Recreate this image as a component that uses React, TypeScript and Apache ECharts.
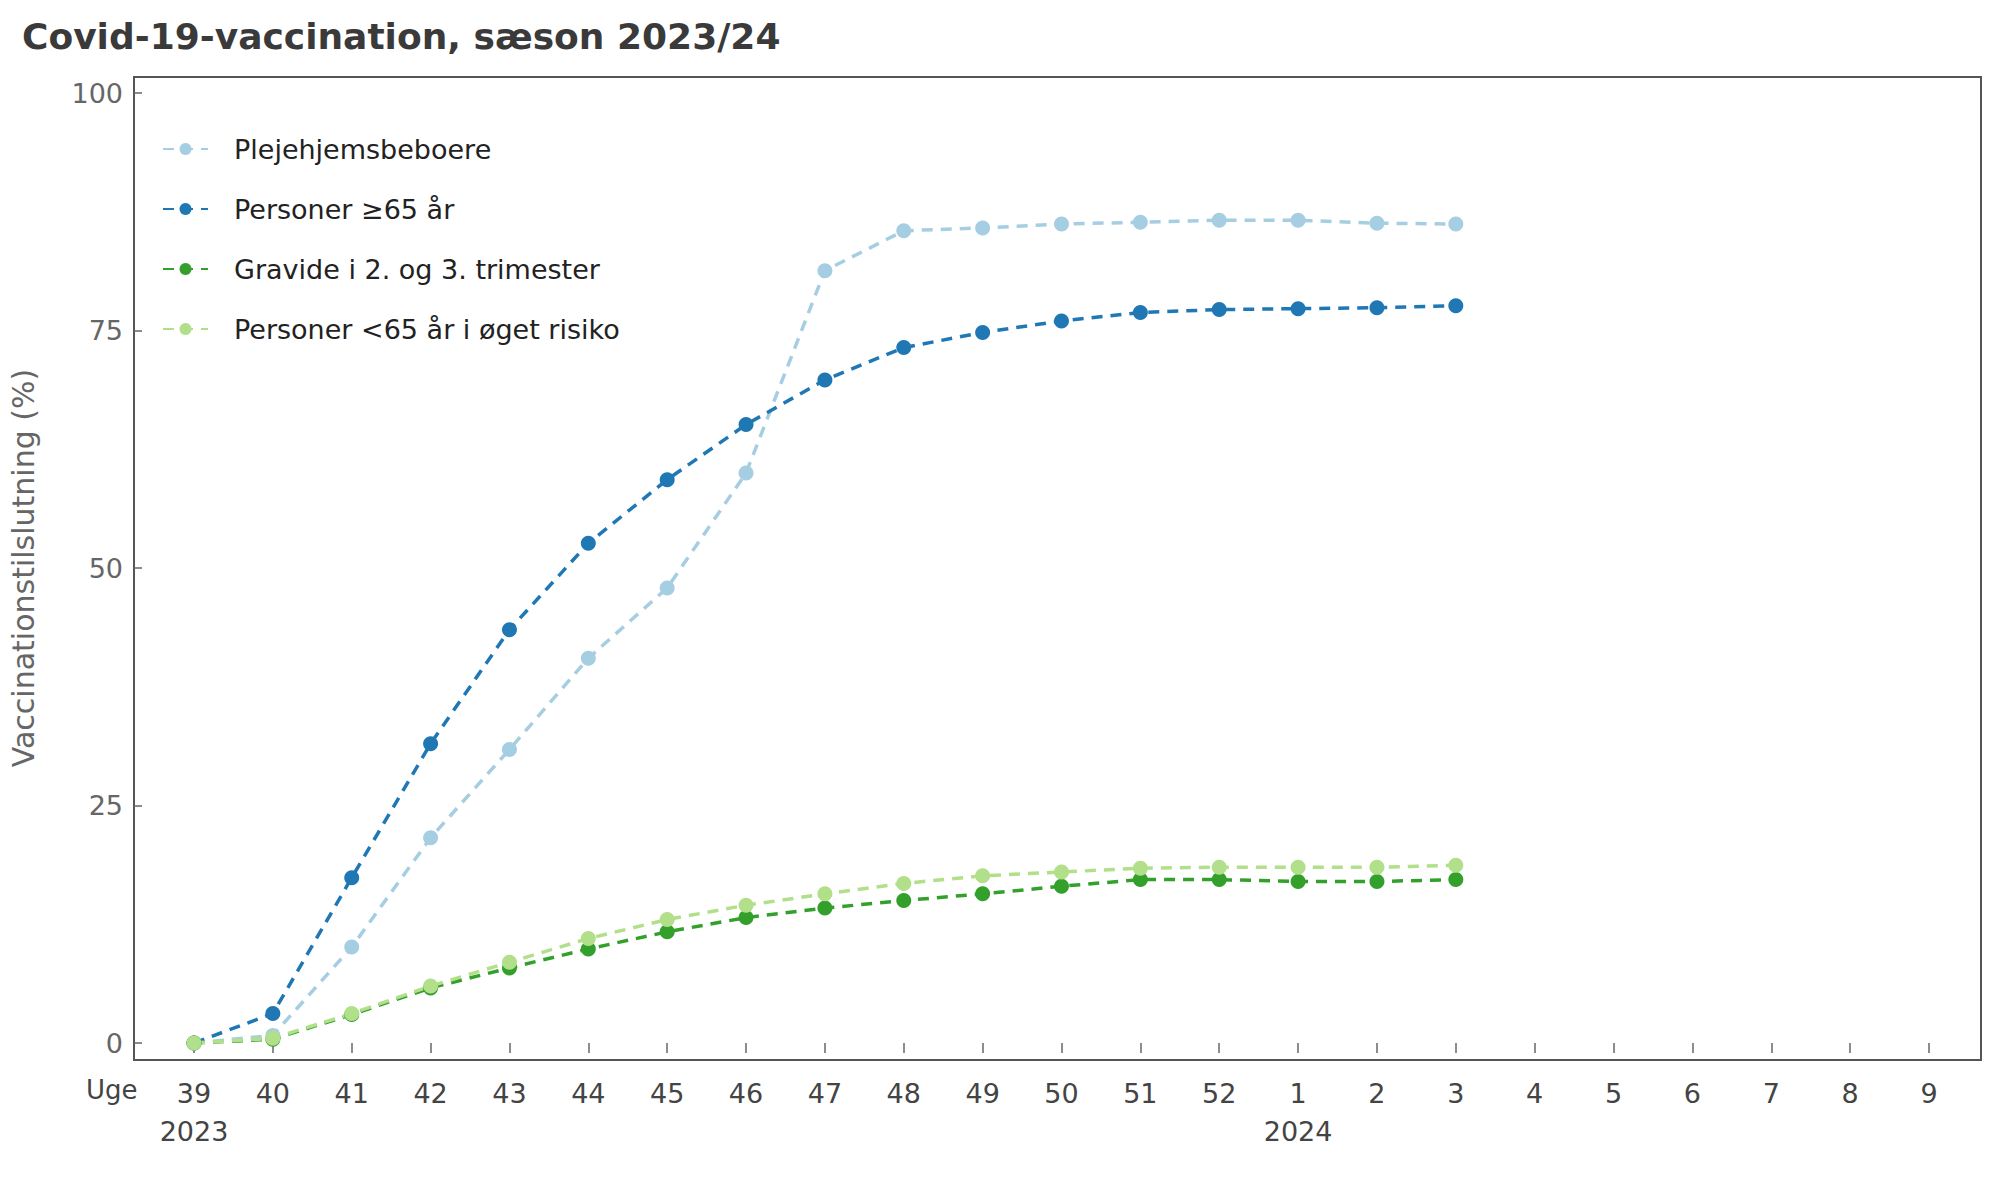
import React, { useEffect, useRef } from "react";
import * as echarts from "echarts";

const weeks = ["39","40","41","42","43","44","45","46","47","48","49","50","51","52","1","2","3","4","5","6","7","8","9"];
const seriesNames = ["Plejehjemsbeboere", "Personer ≥65 år", "Gravide i 2. og 3. trimester", "Personer <65 år i øget risiko"];
const plejehjem = [0, 0.8, 10.1, 21.6, 30.9, 40.5, 47.9, 60.0, 81.3, 85.5, 85.8, 86.2, 86.4, 86.6, 86.6, 86.3, 86.2];
const over65 = [0, 3.1, 17.4, 31.5, 43.5, 52.6, 59.3, 65.1, 69.8, 73.2, 74.8, 76.0, 76.9, 77.2, 77.3, 77.4, 77.6];
const gravide = [0, 0.4, 3.0, 5.8, 7.9, 9.9, 11.7, 13.2, 14.2, 15.0, 15.7, 16.5, 17.2, 17.2, 17.0, 17.0, 17.2];
const under65 = [0, 0.5, 3.1, 6.0, 8.5, 11.0, 13.0, 14.5, 15.7, 16.8, 17.6, 18.0, 18.4, 18.5, 18.5, 18.5, 18.7];
const colors = ["#a6cee3", "#1f78b4", "#33a02c", "#b2df8a"];
const yTicks = [0, 25, 50, 75, 100];

const FONT = "DejaVu Sans";

export default function App() {
  const ref = useRef<HTMLDivElement>(null);
  useEffect(() => {
    const chart = echarts.init(ref.current!, null, { renderer: "svg" });
    const allData = [plejehjem, over65, gravide, under65];
    chart.setOption({
      animation: false,
      backgroundColor: "#ffffff",
      title: {
        text: "Covid-19-vaccination, sæson 2023/24",
        left: 17,
        top: 13,
        textStyle: { fontFamily: FONT, fontSize: 36, fontWeight: "bold", color: "#3a3a3a" },
      },
      legend: {
        orient: "vertical",
        left: 157,
        top: 129,
        itemWidth: 45,
        itemHeight: 15,
        itemGap: 30,
        data: seriesNames,
        textStyle: { fontFamily: FONT, fontSize: 27, color: "#222", lineHeight: 30, padding: [0, 0, 0, 21] },
      },
      grid: [
        { left: 134, right: 19, top: 77, bottom: 140, show: true, borderColor: "#555", borderWidth: 2, backgroundColor: "transparent" },
        { left: 186, right: 71, top: 93, bottom: 157 },
      ],
      xAxis: [
        { gridIndex: 0, type: "value", show: false, min: 0, max: 1 },
        {
          gridIndex: 1,
          type: "category",
          data: weeks,
          boundaryGap: false,
          offset: 17,
          axisLine: { show: false },
          axisTick: { show: true, alignWithLabel: true, length: 10, lineStyle: { color: "#666", width: 1.5 } },
          axisLabel: {
            margin: 14,
            interval: 0,
            fontFamily: FONT,
            fontSize: 27,
            color: "#444",
            lineHeight: 38,
            formatter: (v: string, i: number) => (i === 0 ? v + "\n2023" : v === "1" ? "1\n2024" : v),
          },
        },
      ],
      yAxis: [
        { gridIndex: 0, type: "value", show: false, min: 0, max: 1 },
        {
          gridIndex: 1,
          type: "value",
          min: yTicks[0],
          max: yTicks[yTicks.length - 1],
          interval: 25,
          offset: 52,
          splitLine: { show: false },
          axisLine: { show: false },
          axisTick: { show: true, length: 8, lineStyle: { color: "#666", width: 1.5 } },
          axisLabel: { margin: 19, fontFamily: FONT, fontSize: 27, color: "#666" },
          name: "Vaccinationstilslutning (%)",
          nameLocation: "middle",
          nameGap: 104,
          nameTextStyle: { fontFamily: FONT, fontSize: 30, color: "#666" },
        },
      ],
      graphic: [
        { type: "text", left: 86, top: 1077, style: { text: "Uge", fontFamily: FONT, fontSize: 26, fill: "#444" } },
      ],
      series: seriesNames.map((name, k) => ({
        name,
        type: "line",
        xAxisIndex: 1,
        yAxisIndex: 1,
        data: allData[k],
        symbol: "circle",
        symbolSize: 15,
        itemStyle: { color: colors[k] },
        lineStyle: { color: colors[k], width: 3.5, type: [11, 8] },
      })),
    });
    return () => chart.dispose();
  }, []);
  return <div ref={ref} style={{ position: "absolute", left: 0, top: 0, width: 2000, height: 1200 }} />;
}
